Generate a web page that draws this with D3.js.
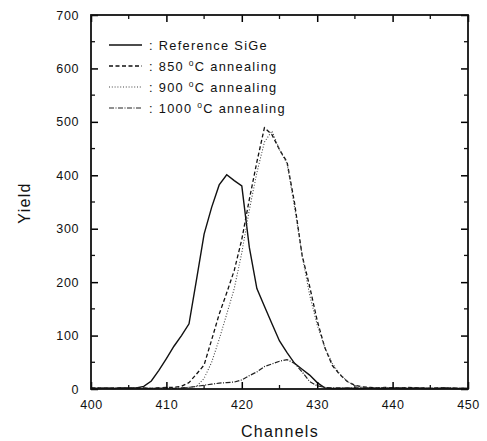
<!DOCTYPE html>
<html>
<head>
<meta charset="utf-8">
<script src="https://cdn.jsdelivr.net/npm/d3@7"></script>
<style>
  body { margin: 0; background: #fff; }
  text { font-family: "Liberation Sans", Arial, sans-serif; fill: #111; }
</style>
</head>
<body>
<div id="chart"></div>
<script>
// channels 400..450, one value per channel
var channels = d3.range(400, 451);

var refSiGe = [
  2, 1, 2, 1, 2, 2, 2, 5, 15, 35,
  57, 80, 100, 122, 205, 290, 340, 382, 401, 390,
  380, 265, 188, 155, 122, 90, 68, 48, 37, 26,
  12, 2, 1, 1, 2, 1, 1, 2, 1, 1,
  2, 1, 1, 2, 1, 1, 1, 2, 1, 1,
  1];
var anneal850 = [
  1, 2, 1, 1, 2, 1, 1, 2, 1, 2,
  3, 3, 5, 12, 28, 45, 92, 140, 180, 222,
  280, 355, 425, 489, 476, 448, 425, 348, 250, 192,
  128, 78, 44, 27, 14, 7, 4, 3, 2, 3,
  2, 2, 3, 2, 2, 1, 2, 2, 1, 1,
  1];
var anneal900 = [
  1, 1, 2, 1, 1, 2, 1, 1, 2, 1,
  2, 2, 2, 3, 5, 20, 50, 93, 140, 188,
  255, 335, 405, 462, 483, 448, 422, 340, 250, 176,
  120, 78, 48, 28, 14, 6, 3, 2, 2, 3,
  2, 1, 2, 2, 1, 1, 2, 1, 1, 1,
  1];
var anneal1000 = [
  1, 1, 1, 2, 1, 1, 2, 1, 1, 2,
  2, 1, 2, 3, 5, 7, 9, 11, 12, 13,
  17, 25, 32, 42, 47, 52, 55, 48, 32, 14,
  6, 3, 2, 2, 1, 2, 2, 1, 2, 1,
  1, 2, 1, 1, 2, 1, 1, 1, 2, 1,
  1];

var xTicks = [400, 410, 420, 430, 440, 450];
var yTicks = [0, 100, 200, 300, 400, 500, 600, 700];

var series = [
  { label: "Reference SiGe", temp: null, values: refSiGe, dash: null, color: "#111", w: 1.4 },
  { label: "annealing", temp: "850", values: anneal850, dash: "4,2.5", color: "#111", w: 1.3 },
  { label: "annealing", temp: "900", values: anneal900, dash: "1,1.8", color: "#444", w: 1.1 },
  { label: "annealing", temp: "1000", values: anneal1000, dash: "5,1.5,1,1.5", color: "#222", w: 1.2 }
];

var width = 487, height = 441;
var svg = d3.select("#chart").append("svg")
  .attr("width", width)
  .attr("height", height);

var scX = d3.scaleLinear().domain([400, 450]).range([91, 468]);
var scY = d3.scaleLinear().domain([0, 700]).range([389, 15]);

// curves
var lineMkr = d3.line()
  .x((d, i) => scX(channels[i]))
  .y(d => scY(d));

svg.append("g")
  .selectAll("path")
  .data(series)
  .enter()
  .append("path")
  .attr("d", d => lineMkr(d.values))
  .attr("fill", "none")
  .attr("stroke", d => d.color)
  .attr("stroke-width", d => d.w)
  .attr("stroke-dasharray", d => d.dash);

// axes, ticks pointing inward
var xMinor = d3.range(405, 450, 10);
var yMinor = d3.range(50, 700, 100);

function ticksOn(axis, major) {
  return function(g) {
    g.call(axis.tickValues(major).tickSizeInner(-7).tickSizeOuter(0));
    g.select(".domain").remove();
    g.selectAll(".tick line").attr("stroke-width", 1.5);
  };
}

svg.append("g")
  .attr("transform", "translate(0,389)")
  .call(ticksOn(d3.axisBottom(scX).tickPadding(11), xTicks))
  .call(g => g.selectAll("text").attr("font-size", 12.5).attr("letter-spacing", 0.6)
    .attr("font-family", "'Liberation Sans', Arial, sans-serif"));
svg.append("g")
  .attr("transform", "translate(91,0)")
  .call(ticksOn(d3.axisLeft(scY).tickPadding(12), yTicks))
  .call(g => g.selectAll("text").attr("font-size", 12.5).attr("letter-spacing", 0.6)
    .attr("font-family", "'Liberation Sans', Arial, sans-serif"));
svg.append("g")
  .attr("transform", "translate(0,15)")
  .call(ticksOn(d3.axisTop(scX).tickFormat(""), xTicks));
svg.append("g")
  .attr("transform", "translate(468,0)")
  .call(ticksOn(d3.axisRight(scY).tickFormat(""), yTicks));

// minor ticks
var minor = svg.append("g").attr("stroke", "#111").attr("stroke-width", 1.3);
xMinor.forEach(function(v) {
  minor.append("line").attr("x1", scX(v)).attr("x2", scX(v)).attr("y1", 389).attr("y2", 385);
  minor.append("line").attr("x1", scX(v)).attr("x2", scX(v)).attr("y1", 15).attr("y2", 19);
});
yMinor.forEach(function(v) {
  minor.append("line").attr("x1", 91).attr("x2", 95).attr("y1", scY(v)).attr("y2", scY(v));
  minor.append("line").attr("x1", 468).attr("x2", 464).attr("y1", scY(v)).attr("y2", scY(v));
});

// frame
svg.append("rect")
  .attr("x", 91).attr("y", 15)
  .attr("width", 377).attr("height", 374)
  .attr("fill", "none")
  .attr("stroke", "#111")
  .attr("stroke-width", 1.8);

// axis titles
svg.append("text")
  .attr("x", 280).attr("y", 437)
  .attr("text-anchor", "middle")
  .attr("font-size", 16)
  .attr("letter-spacing", 1.3)
  .text("Channels");
svg.append("text")
  .attr("transform", "translate(30,203) rotate(-90)")
  .attr("text-anchor", "middle")
  .attr("font-size", 16)
  .attr("letter-spacing", 1.3)
  .text("Yield");

// legend
var leg = svg.append("g");
series.forEach(function(s, i) {
  var y = 45 + i * 21;
  leg.append("line")
    .attr("x1", 109).attr("x2", 142)
    .attr("y1", y).attr("y2", y)
    .attr("stroke", s.color)
    .attr("stroke-width", s.w)
    .attr("stroke-dasharray", s.dash);
  var t = leg.append("text")
    .attr("x", 149).attr("y", y + 4.5)
    .attr("font-size", 12.8)
    .attr("letter-spacing", 1.3);
  if (s.temp === null) {
    t.text(": " + s.label);
  } else {
    t.append("tspan").text(": " + s.temp + " ");
    t.append("tspan").attr("font-size", 8.5).attr("dy", -5).text("o");
    t.append("tspan").attr("dy", 5).text("C " + s.label);
  }
});
</script>
</body>
</html>
